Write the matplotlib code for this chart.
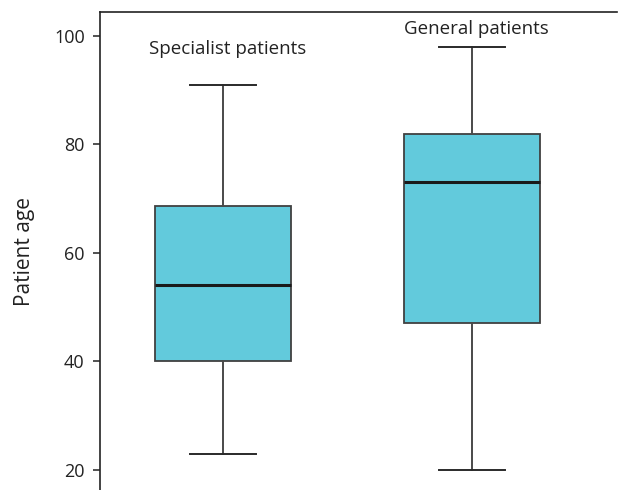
import matplotlib
matplotlib.use("Agg")
import matplotlib.pyplot as plt

groups = ["Specialist patients", "General patients"]
whislo = [23, 20]
q1 = [40, 47]
med = [54, 73]
q3 = [68.7, 82]
whishi = [91, 98]
label_y = [97.6, 101.3]

plt.rcParams['font.family'] = ['Open Sans', 'DejaVu Sans']

fig = plt.figure(figsize=(6.18, 4.9), dpi=100)
ax = fig.add_axes([0.1618, 0.0, 0.998 - 0.1618, 0.9755])

stats = []
for i in range(len(groups)):
    stats.append({"label": groups[i], "whislo": whislo[i], "q1": q1[i],
                  "med": med[i], "q3": q3[i], "whishi": whishi[i], "fliers": []})

ax.bxp(stats, positions=[1, 2], widths=0.546, capwidths=0.265,
       patch_artist=True, showfliers=False,
       boxprops=dict(facecolor="#62cadc", edgecolor="#404040", linewidth=1.3),
       medianprops=dict(color="#1a1a1a", linewidth=2.2),
       whiskerprops=dict(color="#4a4a4a", linewidth=1.4),
       capprops=dict(color="#2a2a2a", linewidth=1.4))

for i, g in enumerate(groups):
    ax.text(i + 1.02, label_y[i], g, ha="center", va="center", fontsize=13.5, color="#222222")

ax.set_xlim(0.506, 2.582)
ax.set_ylim(16.3, 104.4)
ax.set_yticks([20, 40, 60, 80, 100])
ax.set_xticks([])
ax.spines["right"].set_visible(False)
ax.spines["bottom"].set_visible(False)
for s in ["left", "top"]:
    ax.spines[s].set_color("#222222")
    ax.spines[s].set_linewidth(1.2)
ax.tick_params(axis="y", direction="out", length=5, width=1.1, labelsize=13,
               colors="#222222", pad=6)
ax.set_ylabel("Patient age", fontsize=15, color="#222222", labelpad=14)

fig.savefig("out.png", dpi=100)
